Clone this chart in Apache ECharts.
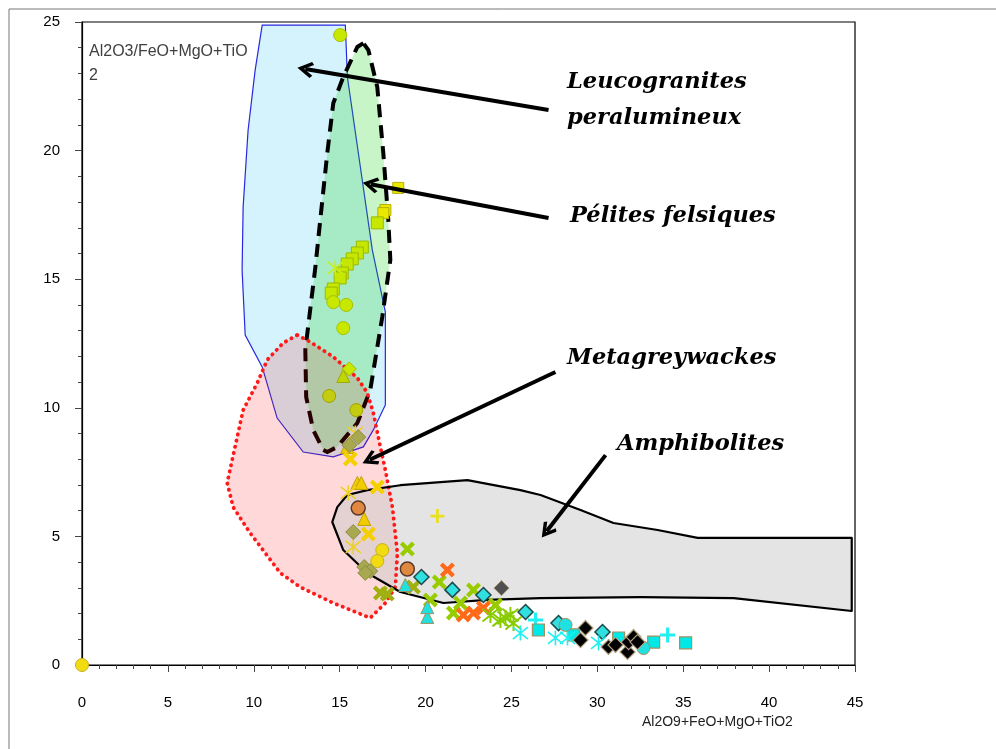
<!DOCTYPE html>
<html><head><meta charset="utf-8">
<script src="https://cdn.jsdelivr.net/npm/echarts/dist/echarts.min.js"></script>
<style>html,body{margin:0;padding:0;background:#fff}#c{width:996px;height:749px}</style>
</head><body><div id="c"></div>
<script>
// axis ranges / tick labels
const xTickLabels = [0,5,10,15,20,25,30,35,40,45];
const yTickLabels = [0,5,10,15,20,25];

// field polygons (data coordinates)
const leucograniteZone = [[10.49,24.88],[10.08,23.13],[9.67,20.80],[9.38,17.81],[9.32,15.36],[9.50,12.83],[10.49,11.59],[11.36,9.60],[12.88,8.28],[14.63,8.09],[16.38,8.48],[16.96,9.14],[17.66,10.11],[17.66,13.72],[16.90,16.14],[15.45,22.86],[15.33,24.88]];
const peliteZone = [[16.38,24.18],[16.03,24.03],[15.21,22.86],[14.63,21.85],[14.28,19.91],[13.87,17.30],[13.58,15.44],[13.00,12.25],[13.05,10.42],[13.46,9.14],[14.04,8.36],[14.28,8.28],[14.86,8.48],[16.03,9.41],[16.78,10.69],[17.48,13.53],[17.95,15.75],[17.83,17.30],[17.54,19.91],[17.19,22.47],[16.67,23.91]];
const greywackeZone = [[12.53,12.83],[13.29,12.56],[14.63,11.98],[16.03,11.16],[16.61,10.58],[16.96,9.80],[17.37,8.48],[17.66,7.58],[18.07,6.14],[18.36,4.35],[18.24,3.03],[17.66,2.41],[16.78,1.83],[14.63,2.41],[12.70,3.03],[11.54,3.58],[9.79,5.13],[8.80,6.14],[8.45,7.08],[8.74,7.97],[9.38,9.91],[10.20,10.96],[10.78,11.86],[11.71,12.52]];
const amphiboliteZone = [[14.57,5.56],[14.86,6.14],[15.44,6.61],[16.61,6.80],[18.53,6.99],[22.44,7.19],[25.52,6.80],[26.69,6.61],[29.02,6.03],[30.94,5.52],[33.51,5.25],[35.84,4.94],[44.81,4.94],[44.81,2.10],[37.94,2.60],[32.52,2.64],[26.69,2.60],[23.60,2.53],[21.04,2.41],[18.53,2.84],[16.61,3.58],[15.21,4.47]];

// samples
const sqYellow = [[18.41,18.55],[17.66,17.69],[17.54,17.57]];
const sqYellowGreen = [[17.19,17.19],[16.32,16.25],[16.03,16.02],[15.73,15.79],[15.44,15.59],[15.15,15.24],[15.03,15.05],[14.63,14.62],[14.51,14.46]];
const circYellowGreen = [[15.03,24.49],[14.63,14.11],[15.38,14.0],[15.21,13.10]];
const circOlive = [[14.39,10.46],[15.97,9.91]];
const triYellowGreen = [[15.21,11.24]];
const diaYellowGreen = [[15.56,11.51]];
const astYellowGreen = [[14.74,15.44]];
const circYellow = [[0,0],[17.48,4.47],[17.19,4.04]];
const triYellow = [[15.44,8.48],[16.03,7.08],[16.26,7.08],[16.43,5.68]];
const xYellow = [[15.62,8.01],[17.19,6.92],[16.67,5.09]];
const astYellow = [[15.91,9.02],[15.50,6.69],[15.79,4.59]];
const diaOlive = [[16.08,8.86],[15.56,8.55],[15.79,5.17],[16.43,3.81],[16.78,3.65],[16.49,3.58]];
const circOrange = [[16.08,6.10],[18.94,3.73]];
const xOlive = [[17.37,2.80],[17.77,2.76],[19.29,3.03]];
const plusYellow = [[20.69,5.79]];
const xGreen = [[18.94,4.51],[20.80,3.23],[22.79,2.92],[21.62,2.02],[20.28,2.53],[22.03,2.41],[24.07,2.33]];
const xOrange = [[21.27,3.69],[22.20,1.94],[22.79,2.02],[23.37,2.22]];
const diaCyan = [[19.76,3.42],[21.56,2.92],[23.37,2.72],[25.82,2.06],[27.74,1.63],[30.30,1.28]];
const triCyan = [[18.82,3.11],[20.10,1.87],[20.10,2.25]];
const diaGray = [[24.42,2.99]];
const astGreen = [[24.36,1.75],[24.65,1.83],[24.94,1.94],[25.12,1.63],[23.78,1.94]];
const plusCyan = [[26.40,1.75],[34.09,1.17]];
const sqCyan = [[26.57,1.36],[28.61,1.17],[31.24,1.05],[33.28,0.89],[35.14,0.86]];
const astCyan = [[25.52,1.24],[27.56,1.05],[28.26,1.05],[30.07,0.86]];
const circCyan = [[28.15,1.56],[32.69,0.66]];
const diaBlack = [[29.31,1.44],[29.02,0.97],[30.65,0.70],[31.06,0.78],[31.76,0.51],[31.82,0.89],[32.11,1.09],[32.34,0.89]];

// annotation arrows [from, to]
const arrowLeuco = [[27.16,21.58],[13.0,23.17]];
const arrowPelite = [[27.16,17.38],[16.8,18.69]];
const arrowGreywacke = [[27.56,11.39],[16.75,7.98]];
const arrowAmphibolite = [[30.48,8.16],[27.05,5.2]];

const X_PATH = 'path://M0,2L2,0L5,3L8,0L10,2L7,5L10,8L8,10L5,7L2,10L0,8L3,5Z';
const PLUS_PATH = 'path://M4,0L6,0L6,4L10,4L10,6L6,6L6,10L4,10L4,6L0,6L0,4L4,4Z';
const AST_PATH = 'path://M1,1L9,9M9,1L1,9M5,0L5,10';
const CHEVRON = 'path://M5,0L10,8.5L8.4,10L5,4.2L1.6,10L0,8.5Z';

function poly(verts, style, z) {
  return {type:'custom', coordinateSystem:'cartesian2d', silent:true, z:z,
    data:[verts[0]],
    renderItem:function(params, api){
      return {type:'polygon', shape:{points:verts.map(function(v){return api.coord(v);})}, style:style};
    }};
}
function sc(data, symbol, size, fill, border, bw, extra) {
  const s = {type:'scatter', data:data, symbol:symbol, symbolSize:size, z:5,
    itemStyle:{color:fill, borderColor:border, borderWidth:bw, opacity:1}};
  return Object.assign(s, extra || {});
}
function arrow(coords) {
  return {type:'lines', coordinateSystem:'cartesian2d', z:8, silent:true,
    symbol:['none', CHEVRON], symbolSize:[18,16],
    lineStyle:{color:'#000', width:4, opacity:1, curveness:0},
    data:[{coords:coords}]};
}

const chart = echarts.init(document.getElementById('c'));
const axisFont = {fontFamily:"'Liberation Sans Narrow','Liberation Sans',sans-serif", fontSize:15, color:'#000'};
const serifLabel = {fontFamily:"'DejaVu Serif',serif", fontStyle:'italic', fontWeight:'bold', fontSize:22.5, fill:'#000', verticalAlign:'middle'};
function lbl(text, x, y) {
  return {type:'text', x:x, y:y, z:20, style:Object.assign({text:text}, serifLabel)};
}
chart.setOption({
  animation:false,
  grid:{left:82, top:22, right:141, bottom:84, show:true, borderColor:'#000', borderWidth:1.2},
  xAxis:{type:'value', min:xTickLabels[0], max:xTickLabels[xTickLabels.length-1], interval:5,
    axisLine:{onZero:false, lineStyle:{color:'#000', width:1.2}},
    axisTick:{show:true, length:7, lineStyle:{color:'#444'}},
    minorTick:{show:true, splitNumber:5, length:4, lineStyle:{color:'#444'}},
    splitLine:{show:false},
    axisLabel:Object.assign({margin:30}, axisFont)},
  yAxis:{type:'value', min:yTickLabels[0], max:yTickLabels[yTickLabels.length-1], interval:5,
    axisLine:{onZero:false, lineStyle:{color:'#000', width:1.2}},
    axisTick:{show:true, length:7, lineStyle:{color:'#444'}},
    minorTick:{show:true, splitNumber:5, length:4, lineStyle:{color:'#444'}},
    splitLine:{show:false},
    axisLabel:Object.assign({margin:22}, axisFont)},
  graphic:[
    {type:'line', shape:{x1:9, y1:9, x2:996, y2:9}, style:{stroke:'#777', lineWidth:1}, z:1},
    {type:'line', shape:{x1:9, y1:9, x2:9, y2:749}, style:{stroke:'#777', lineWidth:1}, z:1},
    {type:'text', x:89, y:52, z:20, style:{text:'Al2O3/FeO+MgO+TiO', fontFamily:"'Liberation Sans',sans-serif", fontSize:16, fill:'#404040', verticalAlign:'middle'}},
    {type:'text', x:89, y:76, z:20, style:{text:'2', fontFamily:"'Liberation Sans',sans-serif", fontSize:16, fill:'#404040', verticalAlign:'middle'}},
    {type:'text', x:642, y:722, z:20, style:{text:'Al2O9+FeO+MgO+TiO2', fontFamily:"'Liberation Sans Narrow','Liberation Sans',sans-serif", fontSize:14, fill:'#222', verticalAlign:'middle'}},
    lbl('Leucogranites', 567, 82),
    lbl('peralumineux', 567, 118),
    lbl('Pélites felsiques', 570, 216),
    lbl('Metagreywackes', 567, 358),
    lbl('Amphibolites', 617, 444)
  ],
  series:[
    poly(leucograniteZone, {fill:'#d4f3fc', stroke:'#2828e0', lineWidth:1.2}, 1),
    poly(peliteZone, {fill:'rgba(5,210,5,0.22)', stroke:'#000', lineWidth:4, lineDash:[13,8]}, 1),
    poly(greywackeZone, {fill:'rgba(255,0,0,0.15)', stroke:null}, 1),
    poly(amphiboliteZone, {fill:'rgba(200,200,200,0.49)', stroke:null}, 1),
    poly(greywackeZone, {fill:null, stroke:'#ff1a1a', lineWidth:3.8, lineDash:[0.3,6], lineCap:'round'}, 2),
    poly(amphiboliteZone, {fill:null, stroke:'#000', lineWidth:2.2, lineJoin:'round'}, 2),

    sc(sqYellow, 'rect', 11, '#e8e800', '#b8b000', 1),
    sc(sqYellowGreen, 'rect', 12, '#c6e800', '#9cb800', 1),
    sc(circYellowGreen, 'circle', 13, '#c8e800', '#a8c000', 1),
    sc(circOlive, 'circle', 13, '#c4cc10', '#a0a000', 1),
    sc(triYellowGreen, 'triangle', 13, '#c0d800', '#a0a800', 1),
    sc(diaYellowGreen, 'diamond', 14, '#c8e800', '#a0b800', 1),
    sc(astYellowGreen, AST_PATH, 15, 'none', '#c8ee20', 1.6),
    sc(circYellow, 'circle', 13, '#f0dc10', '#c8b020', 1, {clip:false}),
    sc(triYellow, 'triangle', 13, '#f0cc00', '#c0a000', 1),
    sc(xYellow, X_PATH, 15, '#f5d000', '#f5d000', 0),
    sc(astYellow, AST_PATH, 15, 'none', '#f0d020', 1.6),
    sc(diaOlive, 'diamond', 15, '#a8a850', '#8c8c40', 1),
    sc(circOrange, 'circle', 14, '#e08840', '#5a3a2a', 1.5),
    sc(xOlive, X_PATH, 15, '#a0b010', '#a0b010', 0),
    sc(plusYellow, PLUS_PATH, 14, '#e8e020', '#e8e020', 0),
    sc(xGreen, X_PATH, 15, '#99cc00', '#99cc00', 0),
    sc(xOrange, X_PATH, 15, '#ff6a1a', '#ff6a1a', 0),
    sc(diaCyan, 'diamond', 15, '#30e0e0', '#204848', 1.5),
    sc(triCyan, 'triangle', 13, '#20e0e0', '#a09060', 1),
    sc(diaGray, 'diamond', 15, '#505050', '#a09070', 1),
    sc(astGreen, AST_PATH, 16, 'none', '#88cc00', 2),
    sc(plusCyan, PLUS_PATH, 15, '#20f0f0', '#20f0f0', 0),
    sc(sqCyan, 'rect', 12, '#00e8e8', '#a09060', 1.2),
    sc(astCyan, AST_PATH, 15, 'none', '#20f0f0', 1.6),
    sc(circCyan, 'circle', 13, '#20e0e0', '#a09060', 1),
    sc(diaBlack, 'diamond', 15, '#000', '#b0a080', 1.2),

    arrow(arrowLeuco), arrow(arrowPelite), arrow(arrowGreywacke), arrow(arrowAmphibolite)
  ]
});
</script></body></html>
